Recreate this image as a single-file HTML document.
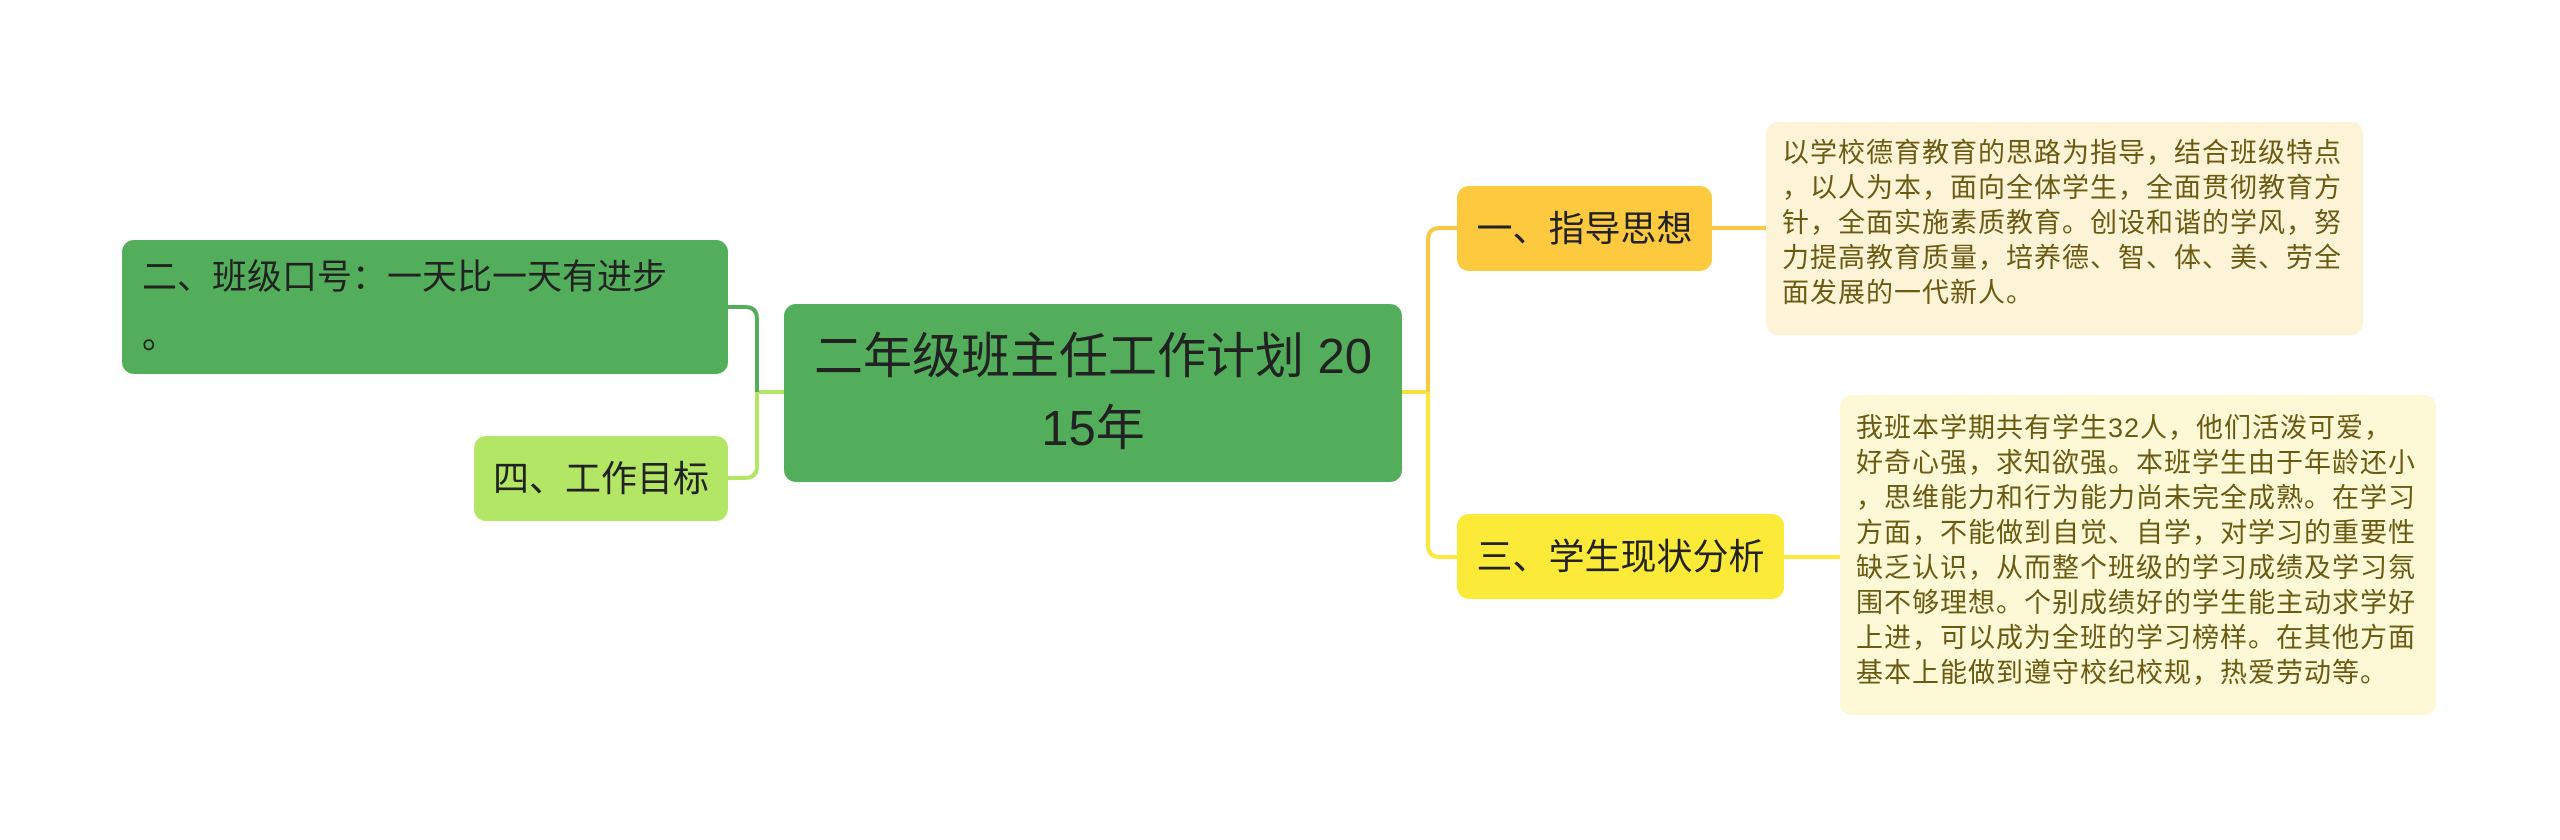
<!DOCTYPE html>
<html><head><meta charset="utf-8"><style>
body{margin:0;width:2560px;height:840px;background:#fff;position:relative;overflow:hidden;font-family:"Liberation Sans","Noto Sans CJK SC",sans-serif;}
.n{position:absolute;box-sizing:border-box;border-radius:12px;color:#222;}
.t{position:absolute;box-sizing:border-box;border-radius:12px;color:#6b5a12;font-size:27px;letter-spacing:1px;line-height:35px;white-space:nowrap;}
</style></head><body>
<svg width="2560" height="840" style="position:absolute;left:0;top:0">
<g fill="none" stroke-width="4">
<path d="M1402 392 H1428" stroke="#f9df40"/>
<path d="M1428 392 V240 Q1428 228 1440 228 H1457" stroke="#f8c83e"/>
<path d="M1428 392 V545 Q1428 557 1440 557 H1457" stroke="#fae93a"/>
<path d="M1712 228 H1766" stroke="#f8c83e"/>
<path d="M1784 557 H1840" stroke="#fae93a"/>
<path d="M784 392 H757" stroke="#b3e665"/>
<path d="M757 392 V319 Q757 307 745 307 H728" stroke="#52ae5a"/>
<path d="M757 392 V466 Q757 478 745 478 H728" stroke="#b3e665"/>
</g></svg>
<div class="n" style="left:122px;top:240px;width:606px;height:134px;background:#52ae5a;font-size:35px;line-height:59px;padding:8px 20px;white-space:nowrap;">二、班级口号：一天比一天有进步<br>。</div>
<div class="n" style="left:474px;top:436px;width:254px;height:85px;background:#b3e665;font-size:36px;line-height:85px;text-align:center;">四、工作目标</div>
<div class="n" style="left:784px;top:304px;width:618px;height:178px;background:#52ae5a;font-size:49px;line-height:72px;padding:17px 10px 0;text-align:center;white-space:nowrap;">二年级班主任工作计划 20<br>15年</div>
<div class="n" style="left:1457px;top:186px;width:255px;height:85px;background:#fcc93f;font-size:36px;line-height:85px;text-align:center;">一、指导思想</div>
<div class="n" style="left:1457px;top:514px;width:327px;height:85px;background:#fbea37;font-size:36px;line-height:85px;text-align:center;white-space:nowrap;">三、学生现状分析</div>
<div class="t" style="left:1766px;top:122px;width:597px;height:213px;background:#fdf4d8;padding:14px 16px;">以学校德育教育的思路为指导，结合班级特点<br>，以人为本，面向全体学生，全面贯彻教育方<br>针，全面实施素质教育。创设和谐的学风，努<br>力提高教育质量，培养德、智、体、美、劳全<br>面发展的一代新人。</div>
<div class="t" style="left:1840px;top:395px;width:596px;height:320px;background:#fdf9d6;padding:16px 16px;">我班本学期共有学生32人，他们活泼可爱，<br>好奇心强，求知欲强。本班学生由于年龄还小<br>，思维能力和行为能力尚未完全成熟。在学习<br>方面，不能做到自觉、自学，对学习的重要性<br>缺乏认识，从而整个班级的学习成绩及学习氛<br>围不够理想。个别成绩好的学生能主动求学好<br>上进，可以成为全班的学习榜样。在其他方面<br>基本上能做到遵守校纪校规，热爱劳动等。</div>
</body></html>
